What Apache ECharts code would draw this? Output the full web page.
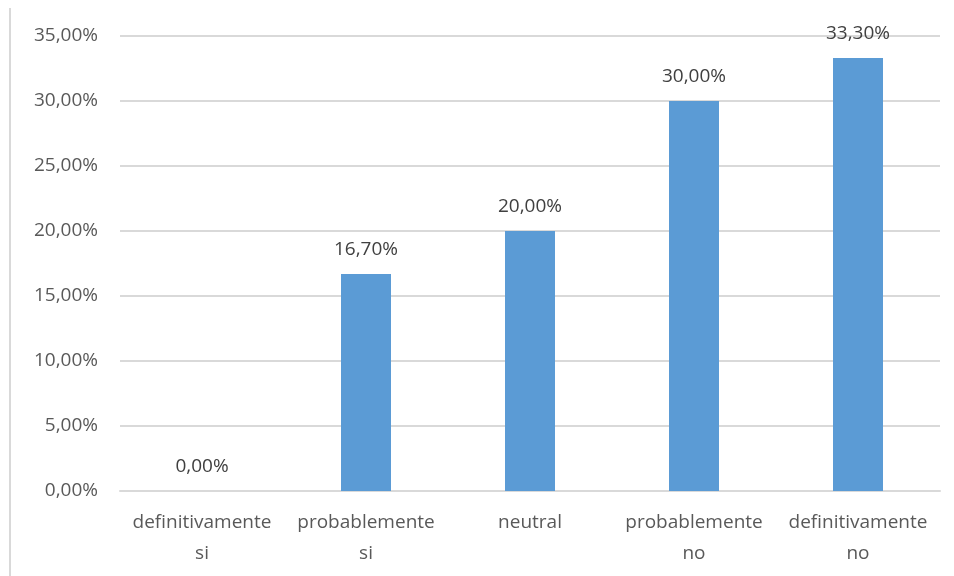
<!DOCTYPE html>
<html>
<head>
<meta charset="utf-8">
<script src="https://cdn.jsdelivr.net/npm/echarts@6/dist/echarts.min.js"></script>
<style>
  html, body { margin: 0; padding: 0; background: #fff; }
  #chart { width: 954px; height: 576px; }
</style>
</head>
<body>
<div id="chart"></div>
<script>
// categorias y porcentajes
const categories = ['definitivamente\nsi', 'probablemente\nsi', 'neutral', 'probablemente\nno', 'definitivamente\nno']
const values = [0, 16.7, 20, 30, 33.3]
const yTicks = [0, 5, 10, 15, 20, 25, 30, 35]

const fmt = v => Number(v).toFixed(2).replace('.', ',') + '%'

const myChart = echarts.init(document.getElementById('chart'))

let options = {
  animation: false,
  textStyle: { fontFamily: 'Open Sans' },
  grid: { left: 120, right: 14, top: 36, bottom: 85 },
  graphic: [
    {
      type: 'line',
      shape: { x1: 10, y1: 8, x2: 10, y2: 576 },
      style: { stroke: '#d9d9d9', lineWidth: 2 }
    }
  ],
  xAxis: {
    type: 'category',
    data: categories,
    axisLine: { lineStyle: { color: '#d9d9d9', width: 2 } },
    axisTick: { show: false },
    axisLabel: { color: '#595959', fontSize: 19, fontFamily: 'Open Sans', lineHeight: 31, margin: 16, interval: 0 }
  },
  yAxis: {
    type: 'value',
    min: yTicks[0],
    max: yTicks[yTicks.length - 1],
    interval: 5,
    axisLine: { show: false },
    axisTick: { show: false },
    splitLine: { lineStyle: { color: '#d9d9d9', width: 2 } },
    axisLabel: { color: '#595959', fontSize: 19, fontFamily: 'Open Sans', margin: 22, formatter: fmt }
  },
  series: [
    {
      type: 'bar',
      data: values,
      barWidth: 50,
      itemStyle: { color: '#5b9bd5' },
      label: {
        show: true,
        position: 'top',
        distance: 15,
        color: '#404040',
        fontSize: 19,
        fontFamily: 'Open Sans',
        formatter: p => fmt(p.value)
      }
    }
  ]
}

myChart.setOption(options)
</script>
</body>
</html>
